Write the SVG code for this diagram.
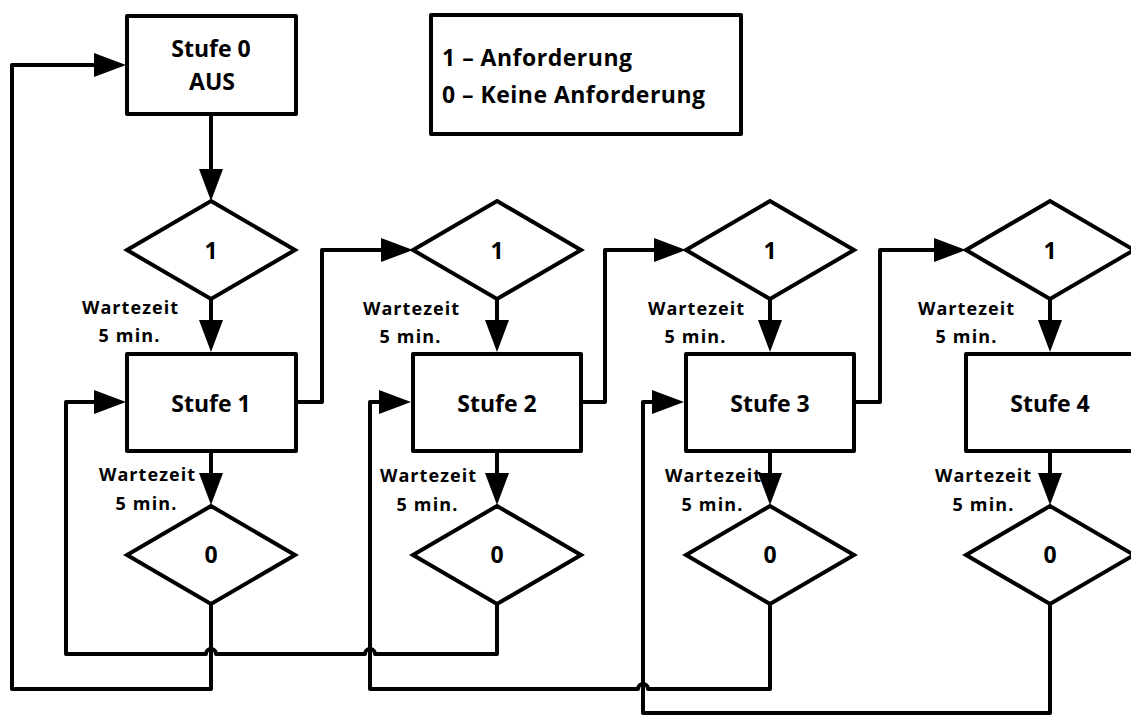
<svg xmlns="http://www.w3.org/2000/svg" width="1131" height="716" viewBox="0 0 1131 716">
<defs>
<style>
.box{fill:#fff;stroke:#000;stroke-width:4;stroke-linejoin:round}
.dia{fill:#fff;stroke:#000;stroke-width:4;stroke-linejoin:miter}
.ln{fill:none;stroke:#000;stroke-width:4;stroke-linejoin:round}
.t{font-family:"Open Sans","Noto Sans",sans-serif;font-weight:700;fill:#000;font-size:23px;text-anchor:middle}
.lbl{font-family:"Open Sans","Noto Sans",sans-serif;font-weight:700;fill:#000;font-size:18px;text-anchor:middle}
.leg{font-family:"Open Sans","Noto Sans",sans-serif;font-weight:700;fill:#000;font-size:23px}
</style>
<marker id="arr" markerUnits="userSpaceOnUse" markerWidth="32" markerHeight="24" refX="24" refY="12" orient="auto">
<path d="M0,0 L32,12 L0,24 Z" fill="#000"/>
</marker>
</defs>
<rect width="1131" height="716" fill="#fff"/>

<g id="connectors">
<path class="ln" d="M211,116 V193" marker-end="url(#arr)"/>
<path class="ln" d="M211,299 V344" marker-end="url(#arr)"/>
<path class="ln" d="M211,453 V497" marker-end="url(#arr)"/>
<path class="ln" d="M497,299 V344" marker-end="url(#arr)"/>
<path class="ln" d="M497,453 V497" marker-end="url(#arr)"/>
<path class="ln" d="M770,299 V344" marker-end="url(#arr)"/>
<path class="ln" d="M770,453 V497" marker-end="url(#arr)"/>
<path class="ln" d="M1050,299 V344" marker-end="url(#arr)"/>
<path class="ln" d="M1050,453 V497" marker-end="url(#arr)"/>
<path class="ln" d="M297,402 H322 V250 H405" marker-end="url(#arr)"/>
<path class="ln" d="M583,402 H605 V250 H678" marker-end="url(#arr)"/>
<path class="ln" d="M856,402 H880 V250 H958" marker-end="url(#arr)"/>
<path class="ln" d="M211,604 V689 H12 V65 H118" marker-end="url(#arr)"/>
<path class="ln" d="M497,604 V654 H375 A5,5 0 0 0 365,654 H216 A5,5 0 0 0 206,654 H66 V402 H118" marker-end="url(#arr)"/>
<path class="ln" d="M770,604 V689 H648 A5,5 0 0 0 638,689 H370 V402 H403" marker-end="url(#arr)"/>
<path class="ln" d="M1050,604 V713 H643 V402 H676" marker-end="url(#arr)"/>
</g>

<g id="stufe0">
<rect class="box" x="127" y="16" width="169" height="98"/>
<text class="t" x="211" y="57">Stufe 0</text>
<text class="t" x="212" y="90">AUS</text>
</g>

<g id="legend">
<rect class="box" x="431" y="15" width="310" height="119"/>
<text class="leg" x="442" y="66" textLength="190" lengthAdjust="spacing">1 – Anforderung</text>
<text class="leg" x="442" y="103" textLength="263" lengthAdjust="spacing">0 – Keine Anforderung</text>
</g>

<g id="d1a">
<polygon class="dia" points="211,201 295,250 211,299 127,250"/>
<text class="t" x="211" y="259">1</text>
</g>
<g id="d1b">
<polygon class="dia" points="497,201 581,250 497,299 413,250"/>
<text class="t" x="497" y="259">1</text>
</g>
<g id="d1c">
<polygon class="dia" points="770,201 854,250 770,299 686,250"/>
<text class="t" x="770" y="259">1</text>
</g>
<g id="d1d">
<polygon class="dia" points="1050,201 1134,250 1050,299 966,250"/>
<text class="t" x="1050" y="259">1</text>
</g>

<g id="stufe1">
<rect class="box" x="127" y="354" width="169" height="97"/>
<text class="t" x="211" y="412">Stufe 1</text>
</g>
<g id="stufe2">
<rect class="box" x="413" y="354" width="168" height="97"/>
<text class="t" x="497" y="412">Stufe 2</text>
</g>
<g id="stufe3">
<rect class="box" x="686" y="354" width="168" height="97"/>
<text class="t" x="770" y="412">Stufe 3</text>
</g>
<g id="stufe4">
<rect class="box" x="966" y="354" width="168" height="97"/>
<text class="t" x="1050" y="412">Stufe 4</text>
</g>

<g id="d0a">
<polygon class="dia" points="211,506 295,555 211,604 127,555"/>
<text class="t" x="211" y="563">0</text>
</g>
<g id="d0b">
<polygon class="dia" points="497,506 581,555 497,604 413,555"/>
<text class="t" x="497" y="563">0</text>
</g>
<g id="d0c">
<polygon class="dia" points="770,506 854,555 770,604 686,555"/>
<text class="t" x="770" y="563">0</text>
</g>
<g id="d0d">
<polygon class="dia" points="1050,506 1134,555 1050,604 966,555"/>
<text class="t" x="1050" y="563">0</text>
</g>

<g id="labels">
<text class="lbl" x="130" y="314" textLength="96" lengthAdjust="spacing">Wartezeit</text>
<text class="lbl" x="129" y="342" textLength="61" lengthAdjust="spacing">5 min.</text>
<text class="lbl" x="411" y="315" textLength="96" lengthAdjust="spacing">Wartezeit</text>
<text class="lbl" x="410" y="343" textLength="61" lengthAdjust="spacing">5 min.</text>
<text class="lbl" x="696" y="315" textLength="96" lengthAdjust="spacing">Wartezeit</text>
<text class="lbl" x="695" y="343" textLength="61" lengthAdjust="spacing">5 min.</text>
<text class="lbl" x="966" y="315" textLength="96" lengthAdjust="spacing">Wartezeit</text>
<text class="lbl" x="966" y="343" textLength="61" lengthAdjust="spacing">5 min.</text>
<text class="lbl" x="147" y="481" textLength="96" lengthAdjust="spacing">Wartezeit</text>
<text class="lbl" x="146" y="510" textLength="61" lengthAdjust="spacing">5 min.</text>
<text class="lbl" x="428" y="482" textLength="96" lengthAdjust="spacing">Wartezeit</text>
<text class="lbl" x="427" y="511" textLength="61" lengthAdjust="spacing">5 min.</text>
<text class="lbl" x="713" y="482" textLength="96" lengthAdjust="spacing">Wartezeit</text>
<text class="lbl" x="712" y="511" textLength="61" lengthAdjust="spacing">5 min.</text>
<text class="lbl" x="983" y="482" textLength="96" lengthAdjust="spacing">Wartezeit</text>
<text class="lbl" x="983" y="511" textLength="61" lengthAdjust="spacing">5 min.</text>
</g>
</svg>
